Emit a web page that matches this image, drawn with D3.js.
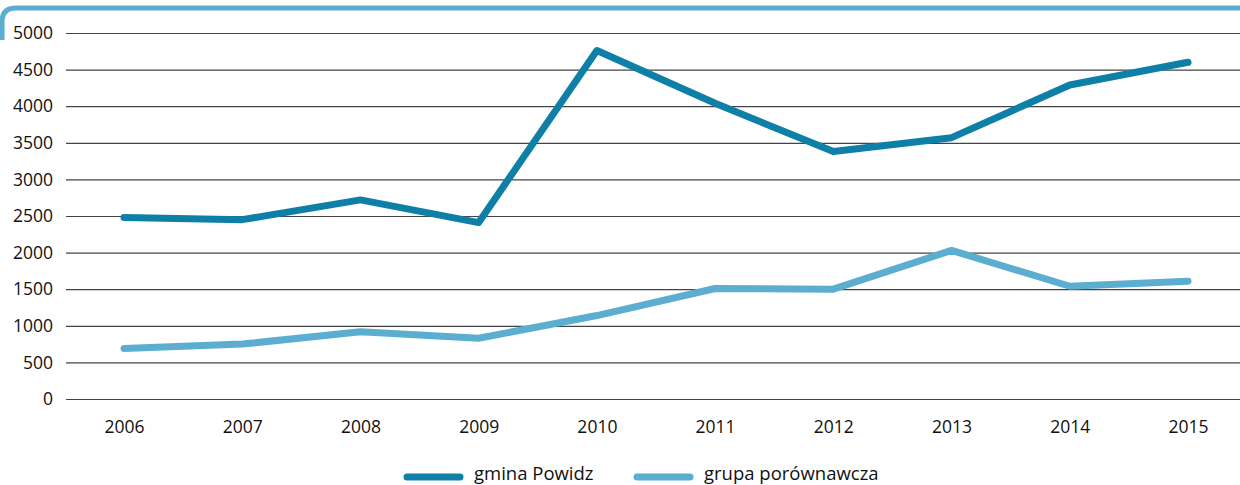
<!DOCTYPE html>
<html><head><meta charset="utf-8">
<script src="https://cdn.jsdelivr.net/npm/d3@7"></script>
<style>body{margin:0;background:#fff;overflow:hidden}svg{display:block}</style>
</head><body><svg id="c" width="1240" height="485"></svg>
<script>
const years = ["2006","2007","2008","2009","2010","2011","2012","2013","2014","2015"];
const gmina = [2480,2450,2720,2410,4760,4040,3380,3570,4290,4600];
const grupa = [690,750,920,830,1140,1510,1500,2030,1540,1610];
const yTicks = [0,500,1000,1500,2000,2500,3000,3500,4000,4500,5000];
const seriesNames = ["gmina Powidz","grupa porównawcza"];
const colors = ["#0e80a7","#5baed0"];

const svg = d3.select("#c");
const font = "'Open Sans', sans-serif";
const x = d3.scalePoint().domain(years).range([124,1188]);
const y = d3.scaleLinear().domain([0,5000]).range([399,33]);

// top border
svg.append("path").attr("d","M2,40 L2,22 Q2,8 16,8 L1240,8")
  .attr("fill","none").attr("stroke","#5baed0").attr("stroke-width",5);

// gridlines
const ya = d3.axisLeft(y).tickValues(yTicks).tickFormat(d3.format("d")).tickSize(0).tickPadding(0);
const gy = svg.append("g").attr("transform","translate(66,0)").call(ya);
gy.select(".domain").remove();
gy.selectAll(".tick line").attr("x2",1240-66).attr("stroke","#444").attr("stroke-width",1.2);
gy.selectAll(".tick text").attr("x",-13).attr("font-family",font).attr("font-size",17.5).attr("fill","#111");

const xa = d3.axisBottom(x).tickSize(0).tickPadding(0);
const gx = svg.append("g").attr("transform","translate(0,399)").call(xa);
gx.select(".domain").remove();
gx.selectAll(".tick text").attr("y",22).attr("font-family",font).attr("font-size",17.5).attr("fill","#111");

const line = d3.line().x((d,i)=>x(years[i])).y(d=>y(d));
[gmina,grupa].forEach((s,k)=>{
  svg.append("path").datum(s).attr("d",line).attr("fill","none")
    .attr("stroke",colors[k]).attr("stroke-width",7)
    .attr("stroke-linecap","round").attr("stroke-linejoin","round");
});

// legend
const legX = [407,637];
seriesNames.forEach((n,k)=>{
  svg.append("line").attr("x1",legX[k]).attr("x2",legX[k]+53).attr("y1",477).attr("y2",477)
    .attr("stroke",colors[k]).attr("stroke-width",7).attr("stroke-linecap","round");
  svg.append("text").attr("x",legX[k]+67).attr("y",480).text(n)
    .attr("font-family",font).attr("font-size",18.5).attr("fill","#111");
});
</script></body></html>
